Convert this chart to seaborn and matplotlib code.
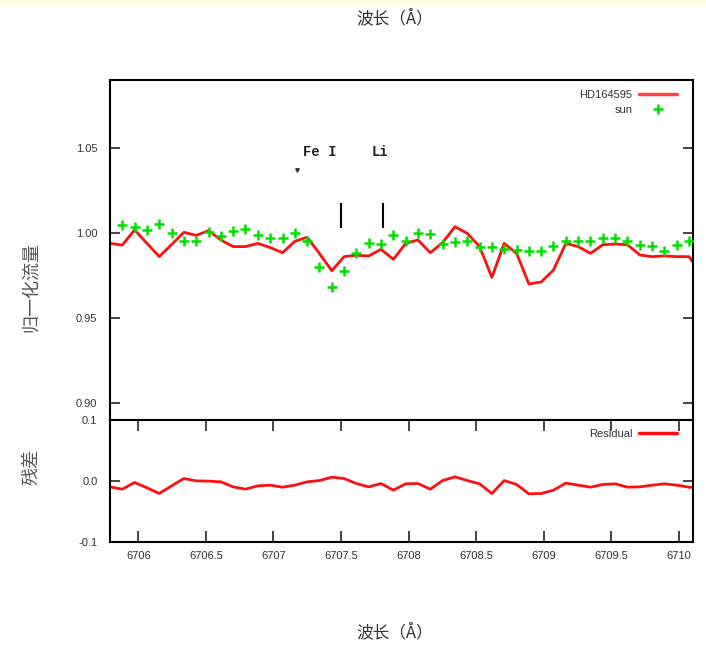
import matplotlib
matplotlib.use("Agg")
import matplotlib.pyplot as plt
import seaborn as sns
from matplotlib.lines import Line2D
from matplotlib.patches import Rectangle
from matplotlib.ticker import FixedLocator, FuncFormatter

# ---- data -------------------------------------------------------------
wavelength = [
    6705.790, 6705.881, 6705.972, 6706.064, 6706.155, 6706.246, 6706.337,
    6706.428, 6706.520, 6706.611, 6706.702, 6706.793, 6706.884, 6706.976,
    6707.067, 6707.158, 6707.249, 6707.340, 6707.432, 6707.523, 6707.614,
    6707.705, 6707.796, 6707.888, 6707.979, 6708.070, 6708.161, 6708.252,
    6708.344, 6708.435, 6708.526, 6708.617, 6708.708, 6708.800, 6708.891,
    6708.982, 6709.073, 6709.164, 6709.256, 6709.347, 6709.438, 6709.529,
    6709.620, 6709.712, 6709.803, 6709.894, 6709.985, 6710.076, 6710.168,
]

hd164595_flux = [
    0.9939, 0.9929, 1.0018, 0.9939, 0.9861, 0.9932, 1.0004, 0.9986, 1.0014,
    0.9959, 0.9920, 0.9920, 0.9939, 0.9914, 0.9884, 0.9951, 0.9975, 0.9880,
    0.9778, 0.9861, 0.9869, 0.9865, 0.9904, 0.9845, 0.9939, 0.9959, 0.9884,
    0.9943, 1.0037, 0.9998, 0.9920, 0.9739, 0.9939, 0.9880, 0.9700, 0.9712,
    0.9782, 0.9939, 0.9920, 0.9880, 0.9931, 0.9935, 0.9931, 0.9871, 0.9861,
    0.9865, 0.9861, 0.9861, 0.9760,
]

sun_wavelength = wavelength[1:48]
sun_flux = [
    1.0047, 1.0033, 1.0018, 1.0053, 1.0002, 0.9951, 0.9955, 1.0008, 0.9982,
    1.0010, 1.0025, 0.9990, 0.9971, 0.9971, 1.0002, 0.9955, 0.9802, 0.9681,
    0.9775, 0.9884, 0.9939, 0.9933, 0.9986, 0.9955, 1.0002, 0.9994, 0.9935,
    0.9947, 0.9955, 0.9920, 0.9920, 0.9908, 0.9900, 0.9892, 0.9896, 0.9924,
    0.9955, 0.9955, 0.9955, 0.9971, 0.9971, 0.9955, 0.9931, 0.9924, 0.9896,
    0.9928, 0.9955,
]

residual = [
    -0.0099, -0.0137, -0.0027, -0.0115, -0.0208, -0.0082, 0.0038, 0.0000,
    -0.0005, -0.0016, -0.0099, -0.0137, -0.0082, -0.0071, -0.0104, -0.0071,
    -0.0016, 0.0005, 0.0060, 0.0038, -0.0044, -0.0099, -0.0044, -0.0153,
    -0.0049, -0.0044, -0.0137, 0.0005, 0.0066, 0.0005, -0.0049, -0.0208,
    0.0005, -0.0060, -0.0214, -0.0208, -0.0153, -0.0038, -0.0071, -0.0104,
    -0.0060, -0.0049, -0.0104, -0.0099, -0.0071, -0.0049, -0.0071, -0.0104,
    -0.0120,
]

x_ticks = [6706, 6706.5, 6707, 6707.5, 6708, 6708.5, 6709, 6709.5, 6710]
flux_ticks = [0.90, 0.95, 1.00, 1.05]
resid_ticks = [-0.1, 0.0, 0.1]

line_ids = ["Fe I", "Li"]
line_id_pos = [6707.22, 6707.73]
line_id_y = 1.0476
line_marks = [6707.50, 6707.81]
line_mark_range = (1.0029, 1.0176)
stray_point = (6707.177, 1.0370)

# ---- style ------------------------------------------------------------
sns.set_style("white")
plt.rcParams['font.family'] = ['Liberation Sans', 'DejaVu Sans']
cjk = ['Noto Sans CJK SC', 'DejaVu Sans']

RED = '#FF1010'
GREEN = '#00E000'

fig = plt.figure(figsize=(7.06, 6.45), dpi=100)
fig.patches.append(Rectangle((0, 1 - 5 / 645), 1, 5 / 645, transform=fig.transFigure,
                             facecolor='#FFFDE0', edgecolor='none', zorder=0))

left, width = 110 / 706, (693.3 - 110) / 706
y_mid = 1 - 420 / 645
y_top = 1 - 80 / 645
y_bot = 1 - 541.7 / 645
ax1 = fig.add_axes([left, y_mid, width, y_top - y_mid])
ax2 = fig.add_axes([left, y_bot, width, y_mid - y_bot], sharex=ax1)

# upper panel: spectra
sns.lineplot(x=wavelength, y=hd164595_flux, ax=ax1, color=RED, lw=2,
             sort=False, legend=False)
sns.scatterplot(x=sun_wavelength, y=sun_flux, ax=ax1, marker='+', s=42,
                color=GREEN, linewidth=1.8, legend=False, zorder=3)

for name, xpos in zip(line_ids, line_id_pos):
    ax1.text(xpos, line_id_y, name, family=['Liberation Mono', 'DejaVu Sans Mono'],
             weight='bold', fontsize=10, va='center', ha='left', color='#222222')
ax1.vlines(line_marks, *line_mark_range, color='black', lw=1.5)
ax1.plot([stray_point[0]], [stray_point[1]], marker='v', ms=2.5, color='#333333')

ax1.set_xlim(6705.79, 6710.108)
ax1.set_ylim(0.89, 1.09)
ax1.yaxis.set_major_locator(FixedLocator(flux_ticks))
ax1.yaxis.set_major_formatter(FuncFormatter(lambda v, p: f"{v:.2f}"))
ax1.tick_params(axis='y', direction='in', length=7, width=1.2, left=True, right=True,
                labelsize=8, labelcolor='#333333', pad=9)
ax1.tick_params(axis='x', bottom=False, top=False, labelbottom=False)

h1 = [Line2D([], [], color='#FF4040', lw=2.5),
      Line2D([], [], color=GREEN, marker='+', ls='none', ms=7, mew=1.8)]
ax1.legend(h1, ["HD164595", "sun"], loc='upper right', bbox_to_anchor=(0.985, 0.993),
           frameon=False, markerfirst=False, fontsize=8, handlelength=3.4,
           handletextpad=0.6, labelspacing=0.45, borderaxespad=0.3,
           labelcolor='#333333')

# lower panel: residual
sns.lineplot(x=wavelength, y=residual, ax=ax2, color=RED, lw=2, sort=False,
             legend=False)
ax2.set_ylim(-0.1, 0.1)
ax2.xaxis.set_major_locator(FixedLocator(x_ticks))
ax2.xaxis.set_major_formatter(FuncFormatter(lambda v, p: f"{v:g}"))
ax2.yaxis.set_major_locator(FixedLocator(resid_ticks))
ax2.yaxis.set_major_formatter(FuncFormatter(lambda v, p: f"{v:.1f}".replace('\u2212', '-')))
ax2.tick_params(axis='y', direction='in', length=7, width=1.2, left=True, right=True,
                labelsize=8, labelcolor='#333333', pad=9)
ax2.tick_params(axis='x', direction='in', length=8, width=1.2, bottom=True, top=True,
                labelsize=8, labelcolor='#333333', pad=7)
h2 = [Line2D([], [], color=RED, lw=2.5)]
ax2.legend(h2, ["Residual"], loc='upper right', bbox_to_anchor=(0.985, 0.99),
           frameon=False, markerfirst=False, fontsize=8, handlelength=3.4,
           handletextpad=0.6, borderaxespad=0.3, labelcolor='#333333')

for ax in (ax1, ax2):
    for sp in ax.spines.values():
        sp.set_color('black')
        sp.set_linewidth(1.5)
    ax.set_xlabel('')
    ax.set_ylabel('')

# axis titles
fig.text(395 / 706, 1 - 18 / 645, "波长（Å）", family=cjk, fontsize=12,
         ha='center', va='center', color='#333333')
fig.text(395 / 706, 1 - 632 / 645, "波长（Å）", family=cjk, fontsize=12,
         ha='center', va='center', color='#333333')
fig.text(31 / 706, 1 - 287 / 645, "归一化流量", family=cjk, fontsize=13,
         rotation=90, ha='center', va='center', color='#555555')
fig.text(31 / 706, 1 - 467 / 645, "残差", family=cjk, fontsize=13,
         rotation=90, ha='center', va='center', color='#555555')

fig.savefig("out.png", dpi=100)
